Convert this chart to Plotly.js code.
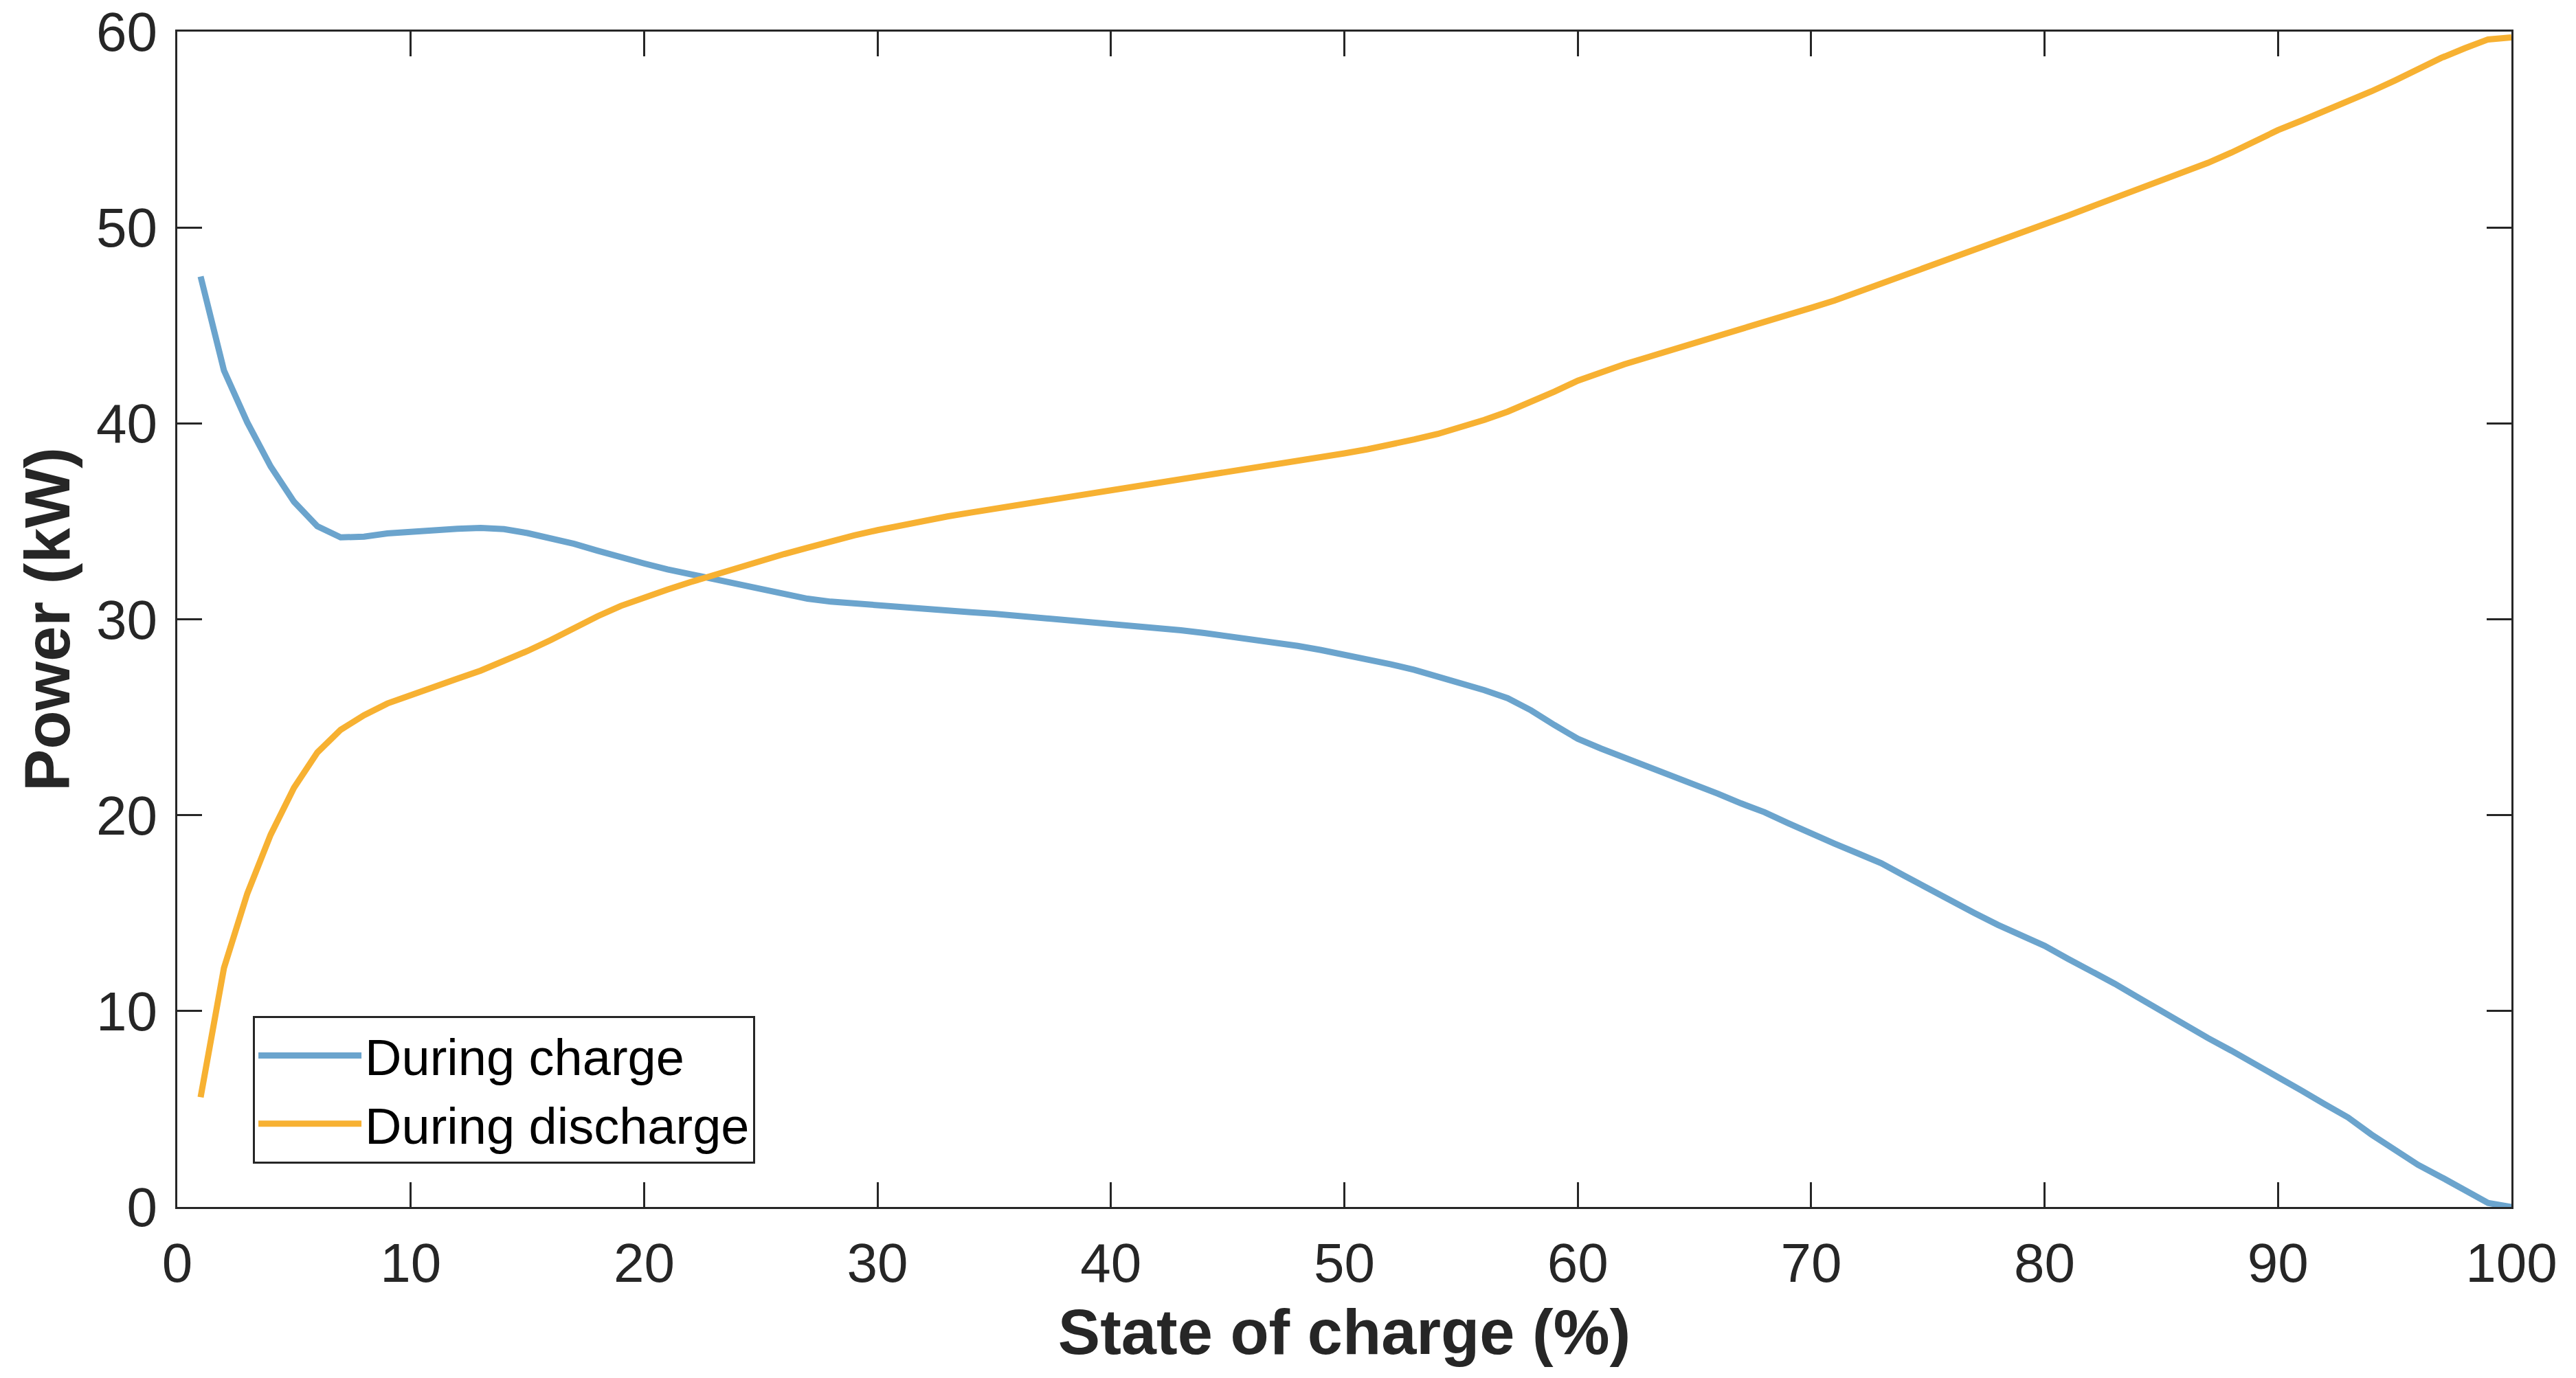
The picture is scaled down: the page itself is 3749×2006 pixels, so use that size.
<!DOCTYPE html>
<html>
<head>
<meta charset="utf-8">
<script src="https://cdn.plot.ly/plotly-3.0.1.min.js"></script>
<style>html,body{margin:0;padding:0;background:#fff;}#chart{width:3749px;height:2006px;}</style>
</head>
<body>
<div id="chart"></div>
<script>
const soc = [];
for (let i = 1; i <= 100; i++) soc.push(i);

const chargePower = [
  47.5, 42.7, 40.05, 37.8, 36.0, 34.75, 34.18, 34.22, 34.38, 34.48,
  34.58, 34.62, 34.66, 34.6, 34.4, 34.15, 33.85, 33.5, 33.15, 32.85,
  32.55, 32.3, 32.02, 31.75, 31.5, 31.22, 31.05, 30.9, 30.8, 30.7,
  30.6, 30.52, 30.44, 30.36, 30.28, 30.18, 30.07, 29.98, 29.87, 29.77,
  29.67, 29.56, 29.44, 29.3, 29.15, 29.0, 28.83, 28.64, 28.43, 28.2,
  27.97, 27.7, 27.42, 27.1, 26.76, 26.38, 25.97, 25.35, 24.6, 23.9,
  23.4, 22.95, 22.5, 22.05, 21.6, 21.1, 20.6, 20.15, 19.6, 19.05,
  18.55, 18.05, 17.55, 16.9, 16.25, 15.6, 15.0, 14.4, 13.87, 13.33,
  12.67, 12.06, 11.4, 10.7, 9.98, 9.3, 8.62, 7.98, 7.33, 6.67,
  5.95, 5.25, 4.57, 3.7, 2.9, 2.15, 1.52, 0.85, 0.2, 0.0
];

const dischargePower = [
  5.6, 12.2, 16.0, 19.0, 21.4, 23.2, 24.36, 25.1, 25.7, 26.15,
  26.57, 26.97, 27.38, 27.84, 28.38, 28.94, 29.55, 30.15, 30.68, 31.12,
  31.52, 31.9, 32.27, 32.65, 33.0, 33.33, 33.65, 34.0, 34.28, 34.55,
  34.8, 35.03, 35.25, 35.45, 35.64, 35.8, 35.96, 36.14, 36.33, 36.52,
  36.71, 36.89, 37.08, 37.28, 37.48, 37.67, 37.87, 38.06, 38.26, 38.47,
  38.68, 38.91, 39.18, 39.46, 39.8, 40.18, 40.6, 41.07, 41.62, 42.18,
  42.62, 43.02, 43.38, 43.73, 44.07, 44.42, 44.78, 45.13, 45.5, 45.9,
  46.27, 46.7, 47.15, 47.58, 48.0, 48.4, 48.8, 49.25, 49.7, 50.15,
  50.6, 51.06, 51.5, 51.95, 52.4, 52.85, 53.3, 53.82, 54.4, 54.97,
  55.45, 55.93, 56.4, 56.95, 57.5, 58.1, 58.66, 59.15, 59.6, 59.7
];

const seriesNames = ["During charge", "During discharge"];
const xTicks = [0, 10, 20, 30, 40, 50, 60, 70, 80, 90, 100];
const yTicks = [0, 10, 20, 30, 40, 50, 60];

const FONT = "Liberation Sans, Arial, Helvetica, sans-serif";
const AX = "#262626";

const traces = [
  {x: soc, y: chargePower, name: seriesNames[0], type: "scatter", mode: "lines",
   line: {color: "#6ba4cd", width: 9}},
  {x: soc, y: dischargePower, name: seriesNames[1], type: "scatter", mode: "lines",
   line: {color: "#f7b132", width: 9}}
];

const axisBase = {
  showline: true, mirror: "ticks", linecolor: AX, linewidth: 3,
  ticks: "inside", ticklen: 36, tickwidth: 3, tickcolor: AX,
  showgrid: false, zeroline: false,
  tickfont: {family: FONT, size: 80, color: AX}
};

const layout = {
  width: 3749, height: 2006,
  margin: {l: 258, r: 94, t: 46, b: 249},
  paper_bgcolor: "#fff", plot_bgcolor: "#fff",
  showlegend: true,
  xaxis: Object.assign({}, axisBase, {
    range: [0, 100], tickvals: xTicks, ticktext: xTicks.map(String),
    ticklabelstandoff: 10,
    title: {text: "<b>State of charge (%)</b>", standoff: 25,
            font: {family: FONT, size: 92, color: AX}}
  }),
  yaxis: Object.assign({}, axisBase, {
    range: [0, 60], tickvals: yTicks, ticktext: yTicks.map(String),
    ticklabelstandoff: 10,
    title: {text: "<b>Power (kW)</b>", standoff: 8,
            font: {family: FONT, size: 92, color: AX}}
  }),
  legend: {
    x: 0.0324, y: 0.1625, xanchor: "left", yanchor: "top",
    bgcolor: "#fff", bordercolor: AX, borderwidth: 3,
    font: {family: FONT, size: 74, color: "#000"},
    itemwidth: 150, tracegroupgap: 0,
    entrywidth: 600, entrywidthmode: "pixels"
  }
};

Plotly.newPlot("chart", traces, layout, {staticPlot: true, displayModeBar: false});
</script>
</body>
</html>
